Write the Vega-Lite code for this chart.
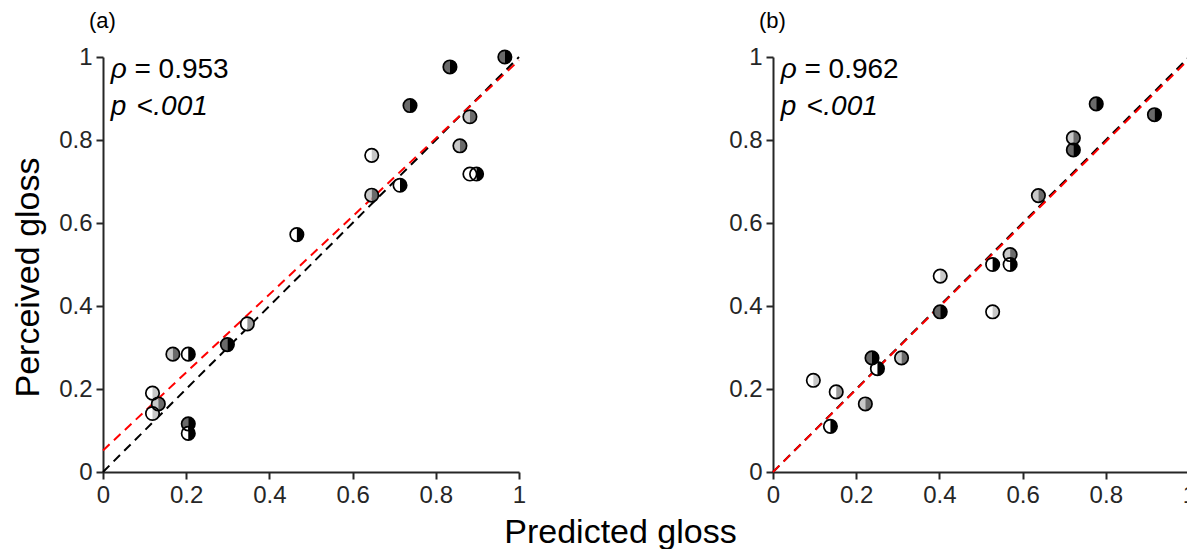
{
  "$schema": "https://vega.github.io/schema/vega-lite/v6.json",
  "padding": {"left": 11, "top": 10, "right": 0, "bottom": 0},
  "background": "white",
  "spacing": 254,
  "bounds": "flush",
  "datasets": {
    "pts": [
      {"panel": "a", "x": 0.966, "y": 1.0, "left": "dark", "right": "black"},
      {"panel": "a", "x": 0.834, "y": 0.976, "left": "dark", "right": "black"},
      {"panel": "a", "x": 0.738, "y": 0.883, "left": "dark", "right": "black"},
      {"panel": "a", "x": 0.882, "y": 0.856, "left": "light", "right": "dark"},
      {"panel": "a", "x": 0.646, "y": 0.763, "left": "white", "right": "light"},
      {"panel": "a", "x": 0.858, "y": 0.786, "left": "light", "right": "dark"},
      {"panel": "a", "x": 0.882, "y": 0.718, "left": "white", "right": "white"},
      {"panel": "a", "x": 0.898, "y": 0.718, "left": "white", "right": "black"},
      {"panel": "a", "x": 0.714, "y": 0.691, "left": "white", "right": "black"},
      {"panel": "a", "x": 0.646, "y": 0.667, "left": "light", "right": "dark"},
      {"panel": "a", "x": 0.466, "y": 0.572, "left": "white", "right": "black"},
      {"panel": "a", "x": 0.347, "y": 0.357, "left": "white", "right": "mid"},
      {"panel": "a", "x": 0.299, "y": 0.307, "left": "dark", "right": "black"},
      {"panel": "a", "x": 0.168, "y": 0.284, "left": "light", "right": "dark"},
      {"panel": "a", "x": 0.205, "y": 0.284, "left": "white", "right": "black"},
      {"panel": "a", "x": 0.119, "y": 0.190, "left": "white", "right": "light"},
      {"panel": "a", "x": 0.133, "y": 0.164, "left": "light", "right": "dark"},
      {"panel": "a", "x": 0.119, "y": 0.141, "left": "white", "right": "light"},
      {"panel": "a", "x": 0.205, "y": 0.116, "left": "dark", "right": "black"},
      {"panel": "a", "x": 0.205, "y": 0.093, "left": "white", "right": "black"},
      {"panel": "b", "x": 0.777, "y": 0.887, "left": "dark", "right": "black"},
      {"panel": "b", "x": 0.917, "y": 0.861, "left": "dark", "right": "black"},
      {"panel": "b", "x": 0.722, "y": 0.805, "left": "light", "right": "dark"},
      {"panel": "b", "x": 0.722, "y": 0.776, "left": "dark", "right": "black"},
      {"panel": "b", "x": 0.638, "y": 0.666, "left": "light", "right": "dark"},
      {"panel": "b", "x": 0.570, "y": 0.524, "left": "light", "right": "dark"},
      {"panel": "b", "x": 0.528, "y": 0.500, "left": "white", "right": "black"},
      {"panel": "b", "x": 0.570, "y": 0.500, "left": "white", "right": "black"},
      {"panel": "b", "x": 0.402, "y": 0.472, "left": "white", "right": "light"},
      {"panel": "b", "x": 0.402, "y": 0.386, "left": "dark", "right": "black"},
      {"panel": "b", "x": 0.528, "y": 0.386, "left": "white", "right": "light"},
      {"panel": "b", "x": 0.238, "y": 0.275, "left": "dark", "right": "black"},
      {"panel": "b", "x": 0.251, "y": 0.249, "left": "white", "right": "black"},
      {"panel": "b", "x": 0.309, "y": 0.275, "left": "light", "right": "dark"},
      {"panel": "b", "x": 0.097, "y": 0.221, "left": "white", "right": "light"},
      {"panel": "b", "x": 0.152, "y": 0.193, "left": "white", "right": "mid"},
      {"panel": "b", "x": 0.222, "y": 0.164, "left": "light", "right": "dark"},
      {"panel": "b", "x": 0.138, "y": 0.110, "left": "white", "right": "black"}
    ],
    "lines": [
      {"panel": "a", "series": "identity", "x": 0, "y": 0},
      {"panel": "a", "series": "identity", "x": 1, "y": 1},
      {"panel": "a", "series": "fit", "x": 0, "y": 0.052},
      {"panel": "a", "series": "fit", "x": 1, "y": 0.992},
      {"panel": "b", "series": "identity", "x": 0, "y": 0},
      {"panel": "b", "series": "identity", "x": 1, "y": 1},
      {"panel": "b", "series": "fit", "x": 0, "y": 0.0},
      {"panel": "b", "series": "fit", "x": 1, "y": 0.995}
    ],
    "notes": [
      {"panel": "a", "part": "rho", "label": "ρ"},
      {"panel": "a", "part": "eq", "label": "= 0.953"},
      {"panel": "a", "part": "p", "label": "p"},
      {"panel": "a", "part": "lt", "label": "<"},
      {"panel": "a", "part": "val", "label": ".001"},
      {"panel": "b", "part": "rho", "label": "ρ"},
      {"panel": "b", "part": "eq", "label": "= 0.962"},
      {"panel": "b", "part": "p", "label": "p"},
      {"panel": "b", "part": "lt", "label": "<"},
      {"panel": "b", "part": "val", "label": ".001"}
    ]
  },
  "hconcat": [
    {
      "width": 416,
      "height": 415,
      "title": {"text": "(a)", "anchor": "start", "frame": "group", "dx": -14, "offset": 12, "fontSize": 22, "fontWeight": "normal", "font": "Liberation Sans", "color": "black"},
      "layer": [
        {
          "data": {"name": "lines"},
          "transform": [{"filter": "datum.panel === 'a' && datum.series === 'identity'"}],
          "mark": {"type": "line", "color": "black", "strokeWidth": 2, "strokeDash": [9, 6]},
          "encoding": {
            "x": {"field": "x", "type": "quantitative", "scale": {"domain": [0, 1]},
              "axis": {"values": [0, 0.2, 0.4, 0.6, 0.8, 1], "format": "~g", "title": "Predicted gloss", "titleX": 517, "titleY": 70, "titleBaseline": "alphabetic", "titleAnchor": null}},
            "y": {"field": "y", "type": "quantitative", "scale": {"domain": [0, 1]},
              "axis": {"values": [0, 0.2, 0.4, 0.6, 0.8, 1], "format": "~g", "title": "Perceived gloss", "titleX": -65, "titleY": 220, "titleBaseline": "alphabetic", "titleAnchor": null}}
          }
        },
        {
          "data": {"name": "lines"},
          "transform": [{"filter": "datum.panel === 'a' && datum.series === 'fit'"}],
          "mark": {"type": "line", "color": "#ff0000", "strokeWidth": 2, "strokeDash": [9, 6]},
          "encoding": {"x": {"field": "x", "type": "quantitative"}, "y": {"field": "y", "type": "quantitative"}}
        },
        {
          "data": {"name": "pts"},
          "transform": [{"filter": "datum.panel === 'a'"}],
          "mark": {"type": "point", "shape": "M0,-1A1,1,0,0,0,0,1Z", "filled": true, "size": 180, "opacity": 1, "strokeWidth": 0},
          "encoding": {
            "x": {"field": "x", "type": "quantitative"}, "y": {"field": "y", "type": "quantitative"},
            "fill": {"field": "left", "type": "nominal", "scale": {"domain": ["white", "light", "mid", "dark", "black"], "range": ["#ffffff", "#c8c8c8", "#9a9a9a", "#6a6a6a", "#000000"]}, "legend": null}
          }
        },
        {
          "data": {"name": "pts"},
          "transform": [{"filter": "datum.panel === 'a'"}],
          "mark": {"type": "point", "shape": "M0,-1A1,1,0,0,1,0,1Z", "filled": true, "size": 180, "opacity": 1, "strokeWidth": 0},
          "encoding": {
            "x": {"field": "x", "type": "quantitative"}, "y": {"field": "y", "type": "quantitative"},
            "fill": {"field": "right", "type": "nominal", "scale": {"domain": ["white", "light", "mid", "dark", "black"], "range": ["#ffffff", "#c8c8c8", "#9a9a9a", "#6a6a6a", "#000000"]}, "legend": null}
          }
        },
        {
          "data": {"name": "pts"},
          "transform": [{"filter": "datum.panel === 'a'"}],
          "mark": {"type": "point", "shape": "circle", "filled": false, "size": 180, "opacity": 1, "stroke": "black", "strokeWidth": 1.7},
          "encoding": {"x": {"field": "x", "type": "quantitative"}, "y": {"field": "y", "type": "quantitative"}}
        },
        {"data": {"name": "notes"}, "transform": [{"filter": "datum.panel === 'a' && datum.part === 'rho'"}],
          "mark": {"type": "text", "fontStyle": "italic", "fontSize": 28, "font": "Liberation Sans", "align": "left", "baseline": "alphabetic", "color": "black"},
          "encoding": {"text": {"field": "label"}, "x": {"datum": 0.0185}, "y": {"datum": 0.949}}},
        {"data": {"name": "notes"}, "transform": [{"filter": "datum.panel === 'a' && datum.part === 'eq'"}],
          "mark": {"type": "text", "fontSize": 28, "font": "Liberation Sans", "align": "left", "baseline": "alphabetic", "color": "black"},
          "encoding": {"text": {"field": "label"}, "x": {"datum": 0.0757}, "y": {"datum": 0.949}}},
        {"data": {"name": "notes"}, "transform": [{"filter": "datum.panel === 'a' && datum.part === 'p'"}],
          "mark": {"type": "text", "fontStyle": "italic", "fontSize": 28, "font": "Liberation Sans", "align": "left", "baseline": "alphabetic", "color": "black"},
          "encoding": {"text": {"field": "label"}, "x": {"datum": 0.0185}, "y": {"datum": 0.861}}},
        {"data": {"name": "notes"}, "transform": [{"filter": "datum.panel === 'a' && datum.part === 'lt'"}],
          "mark": {"type": "text", "fontSize": 28, "font": "Liberation Sans", "align": "left", "baseline": "alphabetic", "color": "black"},
          "encoding": {"text": {"field": "label"}, "x": {"datum": 0.081}, "y": {"datum": 0.861}}},
        {"data": {"name": "notes"}, "transform": [{"filter": "datum.panel === 'a' && datum.part === 'val'"}],
          "mark": {"type": "text", "fontStyle": "italic", "fontSize": 28, "font": "Liberation Sans", "align": "left", "baseline": "alphabetic", "color": "black"},
          "encoding": {"text": {"field": "label"}, "x": {"datum": 0.121}, "y": {"datum": 0.861}}}
      ]
    },
    {
      "width": 416,
      "height": 415,
      "title": {"text": "(b)", "anchor": "start", "frame": "group", "dx": -14, "offset": 12, "fontSize": 22, "fontWeight": "normal", "font": "Liberation Sans", "color": "black"},
      "layer": [
        {
          "data": {"name": "lines"},
          "transform": [{"filter": "datum.panel === 'b' && datum.series === 'identity'"}],
          "mark": {"type": "line", "color": "black", "strokeWidth": 2, "strokeDash": [9, 6]},
          "encoding": {
            "x": {"field": "x", "type": "quantitative", "scale": {"domain": [0, 1]},
              "axis": {"values": [0, 0.2, 0.4, 0.6, 0.8, 1], "format": "~g", "title": null}},
            "y": {"field": "y", "type": "quantitative", "scale": {"domain": [0, 1]},
              "axis": {"values": [0, 0.2, 0.4, 0.6, 0.8, 1], "format": "~g", "title": null}}
          }
        },
        {
          "data": {"name": "lines"},
          "transform": [{"filter": "datum.panel === 'b' && datum.series === 'fit'"}],
          "mark": {"type": "line", "color": "#ff0000", "strokeWidth": 2, "strokeDash": [9, 6]},
          "encoding": {"x": {"field": "x", "type": "quantitative"}, "y": {"field": "y", "type": "quantitative"}}
        },
        {
          "data": {"name": "pts"},
          "transform": [{"filter": "datum.panel === 'b'"}],
          "mark": {"type": "point", "shape": "M0,-1A1,1,0,0,0,0,1Z", "filled": true, "size": 180, "opacity": 1, "strokeWidth": 0},
          "encoding": {
            "x": {"field": "x", "type": "quantitative"}, "y": {"field": "y", "type": "quantitative"},
            "fill": {"field": "left", "type": "nominal", "scale": {"domain": ["white", "light", "mid", "dark", "black"], "range": ["#ffffff", "#c8c8c8", "#9a9a9a", "#6a6a6a", "#000000"]}, "legend": null}
          }
        },
        {
          "data": {"name": "pts"},
          "transform": [{"filter": "datum.panel === 'b'"}],
          "mark": {"type": "point", "shape": "M0,-1A1,1,0,0,1,0,1Z", "filled": true, "size": 180, "opacity": 1, "strokeWidth": 0},
          "encoding": {
            "x": {"field": "x", "type": "quantitative"}, "y": {"field": "y", "type": "quantitative"},
            "fill": {"field": "right", "type": "nominal", "scale": {"domain": ["white", "light", "mid", "dark", "black"], "range": ["#ffffff", "#c8c8c8", "#9a9a9a", "#6a6a6a", "#000000"]}, "legend": null}
          }
        },
        {
          "data": {"name": "pts"},
          "transform": [{"filter": "datum.panel === 'b'"}],
          "mark": {"type": "point", "shape": "circle", "filled": false, "size": 180, "opacity": 1, "stroke": "black", "strokeWidth": 1.7},
          "encoding": {"x": {"field": "x", "type": "quantitative"}, "y": {"field": "y", "type": "quantitative"}}
        },
        {"data": {"name": "notes"}, "transform": [{"filter": "datum.panel === 'b' && datum.part === 'rho'"}],
          "mark": {"type": "text", "fontStyle": "italic", "fontSize": 28, "font": "Liberation Sans", "align": "left", "baseline": "alphabetic", "color": "black"},
          "encoding": {"text": {"field": "label"}, "x": {"datum": 0.0185}, "y": {"datum": 0.949}}},
        {"data": {"name": "notes"}, "transform": [{"filter": "datum.panel === 'b' && datum.part === 'eq'"}],
          "mark": {"type": "text", "fontSize": 28, "font": "Liberation Sans", "align": "left", "baseline": "alphabetic", "color": "black"},
          "encoding": {"text": {"field": "label"}, "x": {"datum": 0.0757}, "y": {"datum": 0.949}}},
        {"data": {"name": "notes"}, "transform": [{"filter": "datum.panel === 'b' && datum.part === 'p'"}],
          "mark": {"type": "text", "fontStyle": "italic", "fontSize": 28, "font": "Liberation Sans", "align": "left", "baseline": "alphabetic", "color": "black"},
          "encoding": {"text": {"field": "label"}, "x": {"datum": 0.0185}, "y": {"datum": 0.861}}},
        {"data": {"name": "notes"}, "transform": [{"filter": "datum.panel === 'b' && datum.part === 'lt'"}],
          "mark": {"type": "text", "fontSize": 28, "font": "Liberation Sans", "align": "left", "baseline": "alphabetic", "color": "black"},
          "encoding": {"text": {"field": "label"}, "x": {"datum": 0.081}, "y": {"datum": 0.861}}},
        {"data": {"name": "notes"}, "transform": [{"filter": "datum.panel === 'b' && datum.part === 'val'"}],
          "mark": {"type": "text", "fontStyle": "italic", "fontSize": 28, "font": "Liberation Sans", "align": "left", "baseline": "alphabetic", "color": "black"},
          "encoding": {"text": {"field": "label"}, "x": {"datum": 0.121}, "y": {"datum": 0.861}}}
      ]
    }
  ],
  "config": {
    "view": {"stroke": null},
    "axis": {
      "grid": false,
      "domainColor": "#262626", "domainWidth": 2,
      "tickColor": "#262626", "tickWidth": 2, "tickSize": 7,
      "labelFont": "Liberation Sans", "labelFontSize": 24, "labelColor": "#262626", "labelPadding": 4,
      "titleFont": "Liberation Sans", "titleFontSize": 34, "titleFontWeight": "normal", "titleColor": "black",
      "labelFlush": false, "labelOverlap": false
    }
  }
}
